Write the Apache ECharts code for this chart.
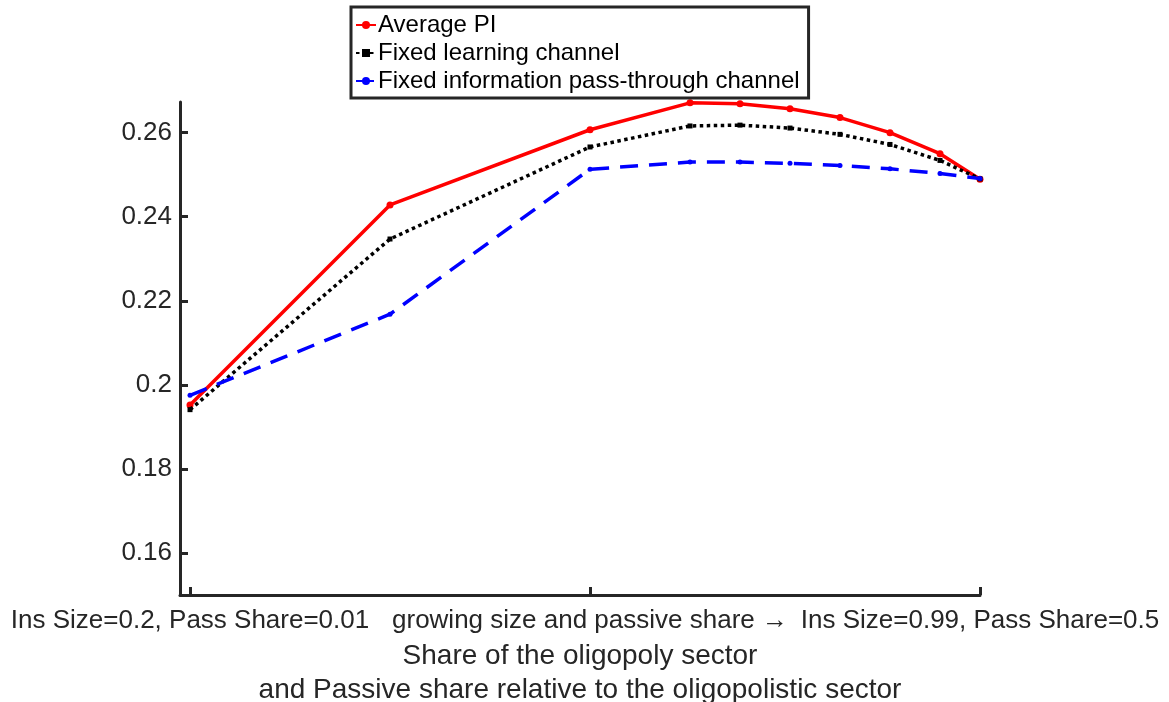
<!DOCTYPE html>
<html>
<head>
<meta charset="utf-8">
<script src="https://cdn.jsdelivr.net/npm/echarts@6/dist/echarts.min.js"></script>
<style>
  html, body { margin: 0; padding: 0; background: #ffffff; }
  #chart { width: 1169px; height: 702px; }
</style>
</head>
<body>
<div id="chart"></div>
<script>
// Institutional size along the x axis (passive share grows with it)
const insSize = [0.2, 0.4, 0.6, 0.7, 0.75, 0.8, 0.85, 0.9, 0.95, 0.99];

// Price informativeness for each scenario
const averagePI        = [0.1952, 0.2428, 0.2607, 0.2671, 0.2669, 0.2657, 0.2636, 0.2600, 0.2550, 0.2489];
const fixedLearning    = [0.1941, 0.2347, 0.2566, 0.2616, 0.2618, 0.2611, 0.2596, 0.2572, 0.2534, 0.2490];
const fixedPassThrough = [0.1975, 0.2168, 0.2513, 0.2530, 0.2530, 0.2527, 0.2522, 0.2514, 0.2503, 0.2491];

const seriesNames = ['Average PI', 'Fixed learning channel', 'Fixed information pass-through channel'];

// Axis ticks and labels
const xTicks = [0.2, 0.6, 0.99];
const xTickLabels = [
  'Ins Size=0.2, Pass Share=0.01',
  'growing size and passive share \u2192',
  'Ins Size=0.99, Pass Share=0.5'
];
const yTicks = [0.16, 0.18, 0.2, 0.22, 0.24, 0.26];
const xAxisName = 'Share of the oligopoly sector\nand Passive share relative to the oligopolistic sector';

const FONT = '"Liberation Sans", Arial, Helvetica, sans-serif';
const AXIS_COLOR = '#262626';

const pairs = arr => insSize.map((x, i) => [x, arr[i]]);

const chart = echarts.init(document.getElementById('chart'), null, { renderer: 'canvas' });

chart.setOption({
  animation: false,
  backgroundColor: '#ffffff',
  textStyle: { fontFamily: FONT },
  grid: { left: 180, right: 189, top: 102, bottom: 107, containLabel: false, outerBoundsMode: 'none' },
  legend: {
    orient: 'vertical',
    left: 351,
    top: 7,
    padding: [4, 9, 3, 4],
    itemGap: 0,
    itemWidth: 20,
    itemHeight: 10,
    borderColor: AXIS_COLOR,
    borderWidth: 3,
    backgroundColor: '#ffffff',
    data: seriesNames,
    textStyle: { fontFamily: FONT, fontSize: 24, color: '#000000', lineHeight: 28, padding: [0, 0, 0, -3] }
  },
  xAxis: {
    type: 'value',
    min: 0.19,
    max: 0.99,
    name: xAxisName,
    nameLocation: 'middle',
    nameGap: 43,
    nameTextStyle: { fontFamily: FONT, fontSize: 28, color: AXIS_COLOR, lineHeight: 34, align: 'center' },
    splitLine: { show: false },
    axisLine: { show: true, lineStyle: { color: AXIS_COLOR, width: 3 } },
    axisTick: { show: true, inside: true, length: 8, customValues: xTicks, lineStyle: { color: AXIS_COLOR, width: 3 } },
    axisLabel: {
      customValues: xTicks,
      margin: 13,
      fontFamily: FONT,
      fontSize: 26,
      color: AXIS_COLOR,
      formatter: v => {
        const i = xTicks.findIndex(t => Math.abs(t - v) < 1e-6);
        return i >= 0 ? xTickLabels[i] : '';
      }
    }
  },
  yAxis: {
    type: 'value',
    min: 0.15,
    max: 0.2673,
    splitLine: { show: false },
    axisLine: { show: true, lineStyle: { color: AXIS_COLOR, width: 3 } },
    axisTick: { show: true, inside: true, length: 8, customValues: yTicks, lineStyle: { color: AXIS_COLOR, width: 3 } },
    axisLabel: {
      customValues: yTicks,
      margin: 8,
      fontFamily: FONT,
      fontSize: 26,
      color: AXIS_COLOR,
      formatter: v => String(parseFloat(v.toFixed(2)))
    }
  },
  series: [
    {
      name: seriesNames[0],
      type: 'line',
      data: pairs(averagePI),
      symbol: 'circle',
      symbolSize: 7,
      itemStyle: { color: '#ff0000' },
      lineStyle: { color: '#ff0000', width: 3.5 },
      z: 2
    },
    {
      name: seriesNames[1],
      type: 'line',
      data: pairs(fixedLearning),
      symbol: 'rect',
      symbolSize: 5,
      itemStyle: { color: '#000000' },
      lineStyle: { color: '#000000', width: 3.5, type: [3.5, 3.5] },
      z: 3
    },
    {
      name: seriesNames[2],
      type: 'line',
      data: pairs(fixedPassThrough),
      symbol: 'circle',
      symbolSize: 5,
      itemStyle: { color: '#0000ff' },
      lineStyle: { color: '#0000ff', width: 3.5, type: [18, 11] },
      z: 4
    }
  ]
});
</script>
</body>
</html>
